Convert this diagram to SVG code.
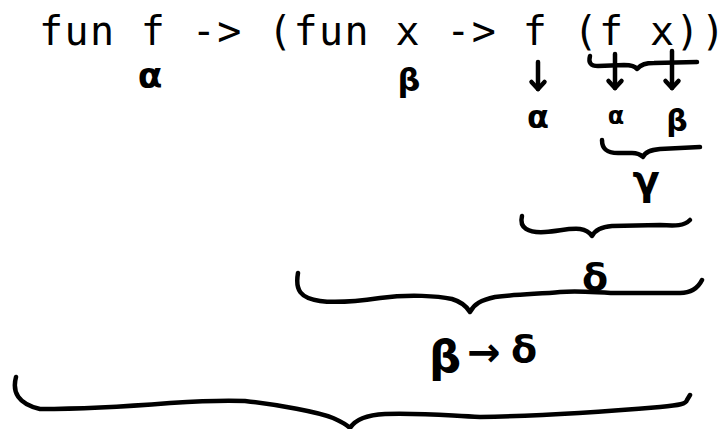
<svg xmlns="http://www.w3.org/2000/svg" width="728" height="429" viewBox="0 0 728 429">
  <style>
    .code { font-family: "DejaVu Sans Mono", "Liberation Mono", monospace; font-size: 40px; fill: #000; }
    .greek { font-family: "DejaVu Sans", "Noto Sans", sans-serif; font-weight: bold; fill: #000; text-anchor: middle; }
    .ink { fill: none; stroke: #000; stroke-width: 4.5; stroke-linecap: round; stroke-linejoin: round; }
  </style>
  <defs>
    <marker id="chev" viewBox="-10 -10 20 20" markerWidth="20" markerHeight="20" markerUnits="userSpaceOnUse" refX="0" refY="0" orient="auto" overflow="visible">
      <path d="M-7,-6.5 L0,0 L-7,6.5" fill="none" stroke="#000" stroke-width="4.5" stroke-linecap="round" stroke-linejoin="round"/>
    </marker>
  </defs>
  <rect width="728" height="429" fill="#fff"/>

  <g id="code">
    <text class="code" x="39" y="45" textLength="686" lengthAdjust="spacing" xml:space="preserve">fun f -&gt; (fun x -&gt; f (f x))</text>
  </g>

  <g id="connectors">
    <!-- arrows -->
    <path class="ink" d="M538,62 L538,89" marker-end="url(#chev)"/>
    <path class="ink" d="M615,54 L615,88" marker-end="url(#chev)"/>
    <path class="ink" d="M672,51 L672,88" marker-end="url(#chev)"/>
    <!-- brace under (f x) -->
    <path class="ink" d="M590,56 C588,63 591,66 598,66 L624,65 C631,65 635,66 637,69 C641,64 646,63 654,63 L697,62"/>
    <!-- brace under alpha beta -->
    <path class="ink" d="M602,140 C602,150 608,153 618,153 L632,153 C638,153 641,155 643,157 C645,152 650,150 660,149 L700,147"/>
    <!-- brace under gamma -->
    <path class="ink" d="M522,216 C519,228 528,233 545,232 C560,231 568,228 580,229 C587,230 590,233 592,236 C595,230 601,227 612,226 L660,225 C676,226 684,226 690,220"/>
    <!-- brace under delta -->
    <path class="ink" d="M298,273 C295,290 300,298 320,301 C335,303 352,302 380,298 C410,294 438,296 452,299 C462,302 467,307 470,312 C474,304 481,300 495,297 C520,294 540,294 560,292 C580,290 600,293 620,293 L680,293 C692,293 698,288 702,280"/>
    <!-- big brace -->
    <path class="ink" d="M16,377 C12,392 18,404 40,409 C70,409 120,407 170,403 C200,401 225,400 245,401 C280,405 318,412 333,418 C342,422 347,425 350,428 C355,420 365,415 385,414 C430,413 450,416 480,417 C540,416 600,412 660,407 C680,405 686,404 687,400 L690,395"/>
  </g>

  <g id="alpha-f"><text class="greek" x="150" y="88" font-size="36">α</text></g>
  <g id="beta-x"><text class="greek" x="409" y="91" font-size="32">β</text></g>
  <g id="alpha-f2"><text class="greek" x="538" y="128" font-size="32">α</text></g>
  <g id="alpha-f3"><text class="greek" x="616" y="124" font-size="24">α</text></g>
  <g id="beta-x2"><text class="greek" x="677" y="131" font-size="30">β</text></g>
  <g id="gamma"><text class="greek" x="646" y="194" font-size="40">γ</text></g>
  <g id="delta"><text class="greek" x="595" y="290" font-size="38">δ</text></g>
  <g id="beta-to-delta">
    <text class="greek"><tspan x="445" y="372" font-size="45">β</tspan><tspan x="484" y="366" font-size="40">→</tspan><tspan x="524" y="362" font-size="38">δ</tspan></text>
  </g>
</svg>
